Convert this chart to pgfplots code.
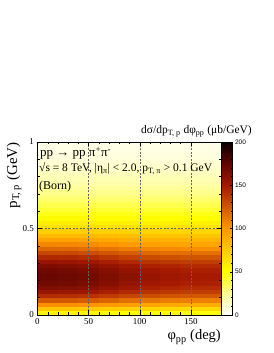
\documentclass[border=0pt]{standalone}
\usepackage{fontspec}
\setmainfont{Liberation Serif}
\setsansfont{Liberation Sans}
\usepackage{pgfplots}
\pgfplotsset{compat=1.18}
\pgfplotstableread{
x y z
0 0.000 45
20 0.000 45
40 0.000 45
60 0.000 44
80 0.000 42
100 0.000 41
120 0.000 40
140 0.000 40
160 0.000 39
180 0.000 39
0 0.025 65
20 0.025 65
40 0.025 64
60 0.025 63
80 0.025 61
100 0.025 59
120 0.025 58
140 0.025 57
160 0.025 57
180 0.025 57
0 0.050 90
20 0.050 90
40 0.050 89
60 0.050 87
80 0.050 85
100 0.050 82
120 0.050 80
140 0.050 79
160 0.050 78
180 0.050 78
0 0.075 115
20 0.075 115
40 0.075 114
60 0.075 112
80 0.075 108
100 0.075 105
120 0.075 102
140 0.075 101
160 0.075 100
180 0.075 100
0 0.100 135
20 0.100 135
40 0.100 134
60 0.100 131
80 0.100 127
100 0.100 123
120 0.100 120
140 0.100 119
160 0.100 117
180 0.100 117
0 0.125 150
20 0.125 150
40 0.125 149
60 0.125 146
80 0.125 141
100 0.125 137
120 0.125 134
140 0.125 132
160 0.125 131
180 0.125 131
0 0.150 160
20 0.150 160
40 0.150 158
60 0.150 155
80 0.150 150
100 0.150 146
120 0.150 142
140 0.150 141
160 0.150 139
180 0.150 139
0 0.175 167
20 0.175 167
40 0.175 165
60 0.175 162
80 0.175 157
100 0.175 152
120 0.175 149
140 0.175 147
160 0.175 145
180 0.175 145
0 0.200 171
20 0.200 171
40 0.200 169
60 0.200 166
80 0.200 161
100 0.200 156
120 0.200 152
140 0.200 150
160 0.200 149
180 0.200 149
0 0.225 172
20 0.225 172
40 0.225 170
60 0.225 167
80 0.225 162
100 0.225 157
120 0.225 153
140 0.225 151
160 0.225 150
180 0.225 150
0 0.250 171
20 0.250 171
40 0.250 169
60 0.250 166
80 0.250 161
100 0.250 156
120 0.250 152
140 0.250 150
160 0.250 149
180 0.250 149
0 0.275 167
20 0.275 167
40 0.275 165
60 0.275 162
80 0.275 157
100 0.275 152
120 0.275 149
140 0.275 147
160 0.275 145
180 0.275 145
0 0.300 160
20 0.300 160
40 0.300 158
60 0.300 155
80 0.300 150
100 0.300 146
120 0.300 142
140 0.300 141
160 0.300 139
180 0.300 139
0 0.325 150
20 0.325 150
40 0.325 149
60 0.325 146
80 0.325 141
100 0.325 137
120 0.325 134
140 0.325 132
160 0.325 131
180 0.325 131
0 0.350 138
20 0.350 138
40 0.350 137
60 0.350 134
80 0.350 130
100 0.350 126
120 0.350 123
140 0.350 121
160 0.350 120
180 0.350 120
0 0.375 125
20 0.375 125
40 0.375 124
60 0.375 121
80 0.375 118
100 0.375 114
120 0.375 111
140 0.375 110
160 0.375 109
180 0.375 109
0 0.400 112
20 0.400 112
40 0.400 111
60 0.400 109
80 0.400 105
100 0.400 102
120 0.400 100
140 0.400 99
160 0.400 97
180 0.400 97
0 0.425 100
20 0.425 100
40 0.425 99
60 0.425 97
80 0.425 94
100 0.425 91
120 0.425 89
140 0.425 88
160 0.425 87
180 0.425 87
0 0.450 89
20 0.450 89
40 0.450 89
60 0.450 88
80 0.450 86
100 0.450 85
120 0.450 84
140 0.450 84
160 0.450 83
180 0.450 83
0 0.475 78
20 0.475 78
40 0.475 78
60 0.475 77
80 0.475 76
100 0.475 74
120 0.475 74
140 0.475 73
160 0.475 73
180 0.475 73
0 0.500 68
20 0.500 68
40 0.500 68
60 0.500 68
80 0.500 67
100 0.500 67
120 0.500 66
140 0.500 66
160 0.500 66
180 0.500 66
0 0.525 61
20 0.525 61
40 0.525 61
60 0.525 61
80 0.525 60
100 0.525 60
120 0.525 59
140 0.525 59
160 0.525 59
180 0.525 59
0 0.550 55
20 0.550 55
40 0.550 55
60 0.550 55
80 0.550 54
100 0.550 54
120 0.550 53
140 0.550 53
160 0.550 53
180 0.550 53
0 0.575 49
20 0.575 49
40 0.575 49
60 0.575 49
80 0.575 49
100 0.575 49
120 0.575 49
140 0.575 49
160 0.575 49
180 0.575 49
0 0.600 44
20 0.600 44
40 0.600 44
60 0.600 44
80 0.600 44
100 0.600 44
120 0.600 44
140 0.600 44
160 0.600 44
180 0.600 44
0 0.625 39
20 0.625 39
40 0.625 39
60 0.625 39
80 0.625 39
100 0.625 39
120 0.625 39
140 0.625 39
160 0.625 39
180 0.625 39
0 0.650 35
20 0.650 35
40 0.650 35
60 0.650 35
80 0.650 35
100 0.650 35
120 0.650 35
140 0.650 35
160 0.650 35
180 0.650 35
0 0.675 31
20 0.675 31
40 0.675 31
60 0.675 31
80 0.675 31
100 0.675 31
120 0.675 31
140 0.675 31
160 0.675 31
180 0.675 31
0 0.700 28
20 0.700 28
40 0.700 28
60 0.700 28
80 0.700 28
100 0.700 28
120 0.700 28
140 0.700 28
160 0.700 28
180 0.700 28
0 0.725 25
20 0.725 25
40 0.725 25
60 0.725 25
80 0.725 25
100 0.725 25
120 0.725 25
140 0.725 25
160 0.725 25
180 0.725 25
0 0.750 22
20 0.750 22
40 0.750 22
60 0.750 22
80 0.750 22
100 0.750 22
120 0.750 22
140 0.750 22
160 0.750 22
180 0.750 22
0 0.775 19
20 0.775 19
40 0.775 19
60 0.775 19
80 0.775 19
100 0.775 19
120 0.775 19
140 0.775 19
160 0.775 19
180 0.775 19
0 0.800 17
20 0.800 17
40 0.800 17
60 0.800 17
80 0.800 17
100 0.800 17
120 0.800 17
140 0.800 17
160 0.800 17
180 0.800 17
0 0.825 15
20 0.825 15
40 0.825 15
60 0.825 15
80 0.825 15
100 0.825 15
120 0.825 15
140 0.825 15
160 0.825 15
180 0.825 15
0 0.850 13
20 0.850 13
40 0.850 13
60 0.850 13
80 0.850 13
100 0.850 13
120 0.850 13
140 0.850 13
160 0.850 13
180 0.850 13
0 0.875 11
20 0.875 11
40 0.875 11
60 0.875 11
80 0.875 11
100 0.875 11
120 0.875 11
140 0.875 11
160 0.875 11
180 0.875 11
0 0.900 9
20 0.900 9
40 0.900 9
60 0.900 9
80 0.900 9
100 0.900 9
120 0.900 9
140 0.900 9
160 0.900 9
180 0.900 9
0 0.925 8
20 0.925 8
40 0.925 8
60 0.925 8
80 0.925 8
100 0.925 8
120 0.925 8
140 0.925 8
160 0.925 8
180 0.925 8
0 0.950 7
20 0.950 7
40 0.950 7
60 0.950 7
80 0.950 7
100 0.950 7
120 0.950 7
140 0.950 7
160 0.950 7
180 0.950 7
0 0.975 6
20 0.975 6
40 0.975 6
60 0.975 6
80 0.975 6
100 0.975 6
120 0.975 6
140 0.975 6
160 0.975 6
180 0.975 6
0 1.000 5
20 1.000 5
40 1.000 5
60 1.000 5
80 1.000 5
100 1.000 5
120 1.000 5
140 1.000 5
160 1.000 5
180 1.000 5
}\dist
\begin{document}
\begin{tikzpicture}[x=1pt,y=1pt]
\path[use as bounding box] (0pt,0pt) rectangle (273pt,353pt);
\begin{axis}[
  at={(37.5pt,38pt)}, anchor=south west,
  scale only axis, width=184pt, height=173pt,
  xmin=0, xmax=180, ymin=0, ymax=1,
  xtick={0,50,100,150}, ytick={0,0.5,1},
  yticklabels={0,0.5,1},
  minor x tick num=4, minor y tick num=4,
  tick align=inside, xtick pos=both, ytick pos=both,
  major tick length=4.5pt, minor tick length=2.5pt,
  tick style={black, line width=0.4pt},
  grid=major, major grid style={black!60, dash pattern=on 2pt off 1.5pt, line width=0.35pt},
  axis on top,
  /pgf/number format/assume math mode=true,
  ticklabel style={font=\fontsize{9}{10}\selectfont},
  colormap={root}{rgb255(0)=(255,255,255) rgb255(25)=(255,255,150) rgb255(50)=(255,255,0) rgb255(100)=(255,150,0) rgb255(150)=(165,25,0) rgb255(175)=(95,5,0) rgb255(200)=(10,0,0)},
  point meta min=0, point meta max=200,
  colorbar,
  colorbar style={
    at={(1,1)}, anchor=north west, xshift=1.5pt,
    width=11pt,
    ytick={0,50,100,150,200}, minor y tick num=4,
    ytick pos=right, yticklabel pos=right,
    tick align=inside, major tick length=3pt, minor tick length=1.5pt,
    yticklabel style={font=\sffamily\fontsize{6.5}{7}\selectfont, xshift=-1pt},
    /pgf/number format/assume math mode=true,
    grid=none,
  },
]
\addplot[surf, shader=flat mean, mesh/cols=10, point meta=explicit] table[x=x, y=y, meta=z] {\dist};
\end{axis}
\node[anchor=base east, inner sep=0pt, font=\fontsize{11.5}{13}\selectfont] at (252pt,219pt) {dσ/dp\textsubscript{T, p} dφ\textsubscript{pp} (μb/GeV)};
\node[anchor=base west, inner sep=0pt, font=\fontsize{13}{15}\selectfont] at (40pt,196pt) {pp → pp π\textsuperscript{+}π\textsuperscript{-}};
\node[anchor=base west, inner sep=0pt, font=\fontsize{11.5}{13}\selectfont] at (39pt,181pt) {√s = 8 TeV,  |η\textsubscript{π}| < 2.0,  p\textsubscript{T, π} > 0.1 GeV};
\node[anchor=base west, inner sep=0pt, font=\fontsize{12}{14}\selectfont] at (39pt,163pt) {(Born)};
\node[rotate=90, anchor=base east, inner sep=0pt, font=\fontsize{15}{17}\selectfont] at (17pt,211pt) {p\textsubscript{T, p} (GeV)};
\node[anchor=base east, inner sep=0pt, font=\fontsize{14.5}{17}\selectfont] at (221pt,13pt) {φ\textsubscript{pp} (deg)};
\end{tikzpicture}
\end{document}
